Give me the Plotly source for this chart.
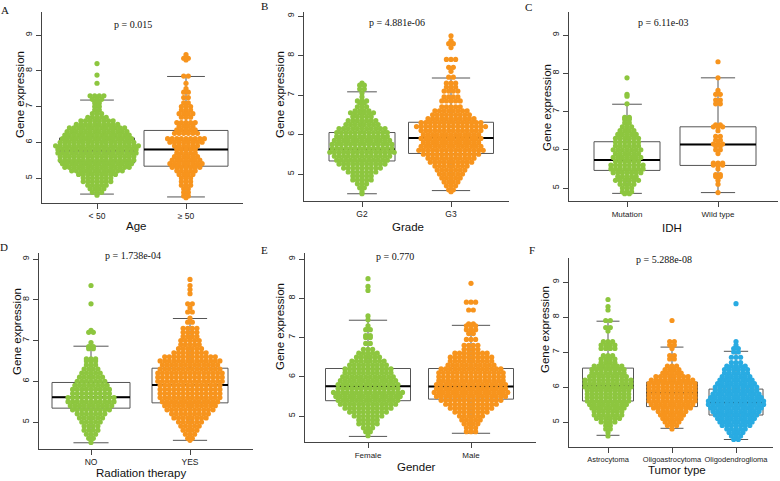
import plotly.graph_objects as go

W, H = 780, 481
GREEN = "#8DC63F"
ORANGE = "#F7941D"
BLUE = "#29ABE2"

# ---------------- data ----------------
# Panel A : Age
A_groups = ["< 50", "\u2265 50"]
A_lt50_y = [8.2, 7.88, 7.65, 7.3, 7.2, 7.1, 7.0, 6.9, 6.8, 6.7, 6.6, 6.5, 6.4, 6.3, 6.2, 6.1, 6.0, 5.9,
            5.8, 5.7, 5.6, 5.5, 5.4, 5.3, 5.2, 5.1, 5.0, 4.9, 4.8, 4.7, 4.6, 4.52]
A_lt50_n = [1, 1, 1, 4, 3, 2, 2, 2, 3, 5, 8, 10, 13, 14, 15, 16, 17, 19,
            18, 18, 17, 17, 16, 15, 12, 9, 7, 7, 5, 4, 3, 1]
A_ge50_y = [8.45, 8.35, 8.3, 7.85, 7.65, 7.5, 7.4, 7.25, 7.1, 7.0, 6.9, 6.8, 6.7, 6.55, 6.45, 6.35, 6.25,
            6.1, 6.0, 5.9, 5.8, 5.7, 5.6, 5.5, 5.4, 5.3, 5.2, 5.1, 5.0, 4.9, 4.8, 4.7, 4.6, 4.5, 4.45]
A_ge50_n = [1, 2, 1, 2, 1, 1, 2, 2, 2, 3, 3, 4, 3, 5, 4, 5, 6,
            9, 8, 6, 5, 5, 6, 7, 8, 7, 5, 4, 3, 3, 3, 2, 2, 2, 1]
A_q1 = [5.42, 5.33]
A_med = [5.77, 5.80]
A_q3 = [6.12, 6.33]
A_lo = [4.55, 4.47]
A_hi = [7.18, 7.84]
A_p = "p = 0.015"

# Panel B : Grade
B_groups = ["G2", "G3"]
B_g2_y = [7.3, 7.25, 7.15, 7.05, 6.95, 6.85, 6.8, 6.7, 6.6, 6.55, 6.45, 6.35, 6.25, 6.15, 6.05, 5.95,
          5.85, 5.75, 5.65, 5.55, 5.45, 5.35, 5.25, 5.15, 5.05, 4.95, 4.85, 4.75, 4.65, 4.55, 4.5]
B_g2_n = [1, 2, 2, 1, 1, 3, 2, 3, 4, 6, 5, 7, 8, 11, 12, 12,
          13, 14, 14, 15, 13, 12, 11, 9, 7, 5, 5, 3, 2, 1, 1]
B_g3_y = [8.5, 8.38, 8.3, 8.2, 7.9, 7.7, 7.6, 7.45, 7.3, 7.2, 7.1, 6.95, 6.85, 6.7, 6.6, 6.5, 6.4, 6.3,
          6.2, 6.1, 6.0, 5.9, 5.8, 5.7, 5.6, 5.5, 5.4, 5.3, 5.2, 5.1, 5.0, 4.9, 4.8, 4.7, 4.6, 4.55]
B_g3_n = [1, 1, 2, 1, 3, 2, 1, 2, 3, 3, 4, 4, 5, 5, 8, 9, 11, 14,
          16, 14, 13, 14, 13, 14, 15, 13, 11, 10, 8, 7, 6, 5, 4, 3, 2, 1]
B_q1 = [5.33, 5.52]
B_med = [5.63, 5.91]
B_q3 = [6.05, 6.31]
B_lo = [4.50, 4.58]
B_hi = [7.08, 7.43]
B_p = "p = 4.881e-06"

# Panel C : IDH
C_groups = ["Mutation", "Wild type"]
C_mut_y = [7.88, 7.45, 7.4, 7.2, 6.85, 6.8, 6.7, 6.6, 6.5, 6.4, 6.3, 6.2, 6.1, 6.0, 5.9, 5.8, 5.7,
           5.6, 5.5, 5.4, 5.3, 5.2, 5.1, 5.0, 4.9, 4.85]
C_mut_n = [1, 1, 1, 1, 2, 2, 2, 3, 4, 5, 6, 6, 6, 7, 6, 7, 6,
           8, 8, 7, 5, 6, 4, 3, 3, 2]
C_wt_y = [8.3, 7.88, 7.55, 7.45, 7.3, 7.2, 6.65, 6.6, 6.5, 6.35, 6.25, 6.15, 6.1, 6.0, 5.9, 5.65,
          5.6, 5.5, 5.35, 5.3, 5.2, 5.1, 4.88]
C_wt_n = [1, 1, 1, 2, 2, 2, 2, 3, 1, 2, 2, 3, 2, 2, 1, 3,
          3, 1, 2, 2, 1, 1, 1]
C_q1 = [5.46, 5.59]
C_med = [5.73, 6.14]
C_q3 = [6.21, 6.60]
C_lo = [4.86, 4.88]
C_hi = [7.19, 7.88]
C_p = "p = 6.11e-03"

# Panel D : Radiation therapy
D_groups = ["NO", "YES"]
D_no_y = [8.35, 7.9, 7.25, 7.2, 6.95, 6.85, 6.8, 6.55, 6.5, 6.4, 6.3, 6.2, 6.1, 6.0, 5.9, 5.8, 5.7,
          5.6, 5.5, 5.4, 5.3, 5.2, 5.1, 5.0, 4.9, 4.8, 4.7, 4.6, 4.5]
D_no_n = [1, 1, 1, 2, 1, 2, 2, 3, 3, 3, 4, 5, 6, 7, 8, 9, 9,
          11, 11, 10, 9, 7, 6, 5, 4, 4, 3, 2, 1]
D_yes_y = [8.5, 8.35, 8.25, 8.15, 7.9, 7.8, 7.7, 7.55, 7.45, 7.3, 7.2, 7.1, 7.0, 6.9, 6.8, 6.7, 6.6,
           6.5, 6.4, 6.3, 6.2, 6.1, 6.0, 5.9, 5.8, 5.7, 5.6, 5.5, 5.4, 5.3, 5.2, 5.1, 5.0, 4.9, 4.8,
           4.7, 4.6, 4.55]
D_yes_n = [1, 1, 1, 1, 2, 1, 2, 1, 2, 4, 4, 4, 5, 5, 6, 8, 12,
           14, 13, 14, 15, 15, 15, 14, 14, 14, 14, 13, 12, 11, 9, 8, 6, 5, 4,
           3, 2, 1]
D_q1 = [5.34, 5.47]
D_med = [5.61, 5.91]
D_q3 = [5.97, 6.32]
D_lo = [4.49, 4.55]
D_hi = [6.86, 7.54]
D_p = "p = 1.738e-04"

# Panel E : Gender
E_groups = ["Female", "Male"]
E_f_y = [8.5, 8.3, 8.2, 7.55, 7.45, 7.3, 7.2, 7.05, 7.0, 6.85, 6.7, 6.6, 6.5, 6.4, 6.3, 6.2, 6.1,
         6.0, 5.9, 5.8, 5.7, 5.6, 5.5, 5.4, 5.3, 5.2, 5.1, 5.0, 4.9, 4.8, 4.7, 4.6, 4.5]
E_f_n = [1, 1, 1, 1, 1, 1, 2, 2, 2, 2, 3, 5, 6, 8, 9, 11, 11,
         12, 13, 14, 14, 16, 15, 14, 13, 11, 9, 7, 5, 5, 3, 2, 1]
E_m_y = [8.38, 7.9, 7.7, 7.35, 7.3, 7.2, 7.1, 6.95, 6.8, 6.7, 6.6, 6.5, 6.4, 6.3, 6.2, 6.1, 6.0,
         5.9, 5.8, 5.7, 5.6, 5.5, 5.4, 5.3, 5.2, 5.1, 5.0, 4.9, 4.8, 4.7, 4.6]
E_m_n = [1, 3, 2, 2, 3, 3, 2, 3, 4, 4, 8, 10, 10, 11, 14, 15, 15,
         15, 16, 16, 17, 16, 14, 12, 10, 8, 6, 5, 4, 3, 3]
E_q1 = [5.39, 5.43]
E_med = [5.76, 5.75]
E_q3 = [6.21, 6.21]
E_lo = [4.48, 4.56]
E_hi = [7.44, 7.31]
E_p = "p = 0.770"

# Panel F : Tumor type
F_groups = ["Astrocytoma", "Oligoastrocytoma", "Oligodendroglioma"]
F_astro_y = [8.5, 8.3, 8.2, 7.9, 7.7, 7.6, 7.3, 7.2, 7.1, 6.9, 6.8, 6.7, 6.6, 6.5, 6.4, 6.3, 6.2,
             6.1, 6.0, 5.9, 5.8, 5.7, 5.6, 5.5, 5.4, 5.3, 5.2, 5.1, 5.0, 4.9, 4.8, 4.7, 4.6]
F_astro_n = [1, 1, 1, 2, 2, 1, 3, 4, 4, 3, 4, 4, 7, 8, 8, 9, 11,
             11, 11, 10, 10, 10, 10, 9, 8, 7, 7, 6, 4, 2, 2, 1, 1]
F_oa_y = [7.9, 7.3, 7.2, 7.1, 6.9, 6.8, 6.6, 6.5, 6.4, 6.3, 6.2, 6.1, 6.0, 5.9, 5.8, 5.7, 5.6,
          5.5, 5.4, 5.3, 5.2, 5.1, 5.0, 4.9, 4.8]
F_oa_n = [1, 2, 2, 1, 2, 2, 3, 4, 5, 8, 10, 11, 11, 11, 11, 11, 11,
          10, 9, 7, 6, 5, 4, 3, 1]
F_od_y = [8.38, 7.3, 7.2, 7.1, 7.0, 6.85, 6.7, 6.6, 6.5, 6.4, 6.3, 6.2, 6.1, 6.0, 5.9, 5.8, 5.7,
          5.6, 5.5, 5.4, 5.3, 5.2, 5.1, 5.0, 4.9, 4.8, 4.7, 4.6, 4.5]
F_od_n = [1, 1, 1, 2, 2, 3, 3, 5, 6, 6, 7, 8, 9, 10, 10, 11, 12,
          13, 13, 12, 11, 10, 9, 8, 7, 5, 4, 3, 2]
F_q1 = [5.60, 5.44, 5.20]
F_med = [6.02, 5.82, 5.56]
F_q3 = [6.54, 6.14, 5.94]
F_lo = [4.62, 4.82, 4.50]
F_hi = [7.88, 7.14, 7.02]
F_p = "p = 5.288e-08"

Y_TICKS = [5, 6, 7, 8, 9]

# ---------------- layout geometry (pixels) ----------------
PANELS = [
    dict(letter="A", groups=A_groups, swarms=[(A_lt50_y, A_lt50_n, GREEN), (A_ge50_y, A_ge50_n, ORANGE)],
         q1=A_q1, med=A_med, q3=A_q3, lo=A_lo, hi=A_hi, p=A_p, xtitle="Age",
         xl=42, xr=243, yt=12, yb=203, y5=178, y9=35, cx=[97, 186], bw=[75, 84],
         let=(5, 10), pp=(133, 25), xt=(136, 226), ytit=(20, 95), tfs=8.5),
    dict(letter="B", groups=B_groups, swarms=[(B_g2_y, B_g2_n, GREEN), (B_g3_y, B_g3_n, ORANGE)],
         q1=B_q1, med=B_med, q3=B_q3, lo=B_lo, hi=B_hi, p=B_p, xtitle="Grade",
         xl=304, xr=509, yt=12, yb=201, y5=174, y9=16, cx=[362, 451], bw=[66, 85],
         let=(264, 6), pp=(397, 22), xt=(408, 227), ytit=(280, 95), tfs=8.5),
    dict(letter="C", groups=C_groups, swarms=[(C_mut_y, C_mut_n, GREEN), (C_wt_y, C_wt_n, ORANGE)],
         q1=C_q1, med=C_med, q3=C_q3, lo=C_lo, hi=C_hi, p=C_p, xtitle="IDH",
         xl=569, xr=778, yt=12, yb=201, y5=188, y9=35, cx=[627, 718], bw=[66, 76],
         let=(528, 7), pp=(663, 22), xt=(672, 228), ytit=(547, 108), tfs=8),
    dict(letter="D", groups=D_groups, swarms=[(D_no_y, D_no_n, GREEN), (D_yes_y, D_yes_n, ORANGE)],
         q1=D_q1, med=D_med, q3=D_q3, lo=D_lo, hi=D_hi, p=D_p, xtitle="Radiation therapy",
         xl=39, xr=253, yt=253, yb=449, y5=422, y9=259, cx=[91, 190], bw=[78, 76],
         let=(4, 247), pp=(133, 255), xt=(141, 473), ytit=(17, 332), tfs=8.5),
    dict(letter="E", groups=E_groups, swarms=[(E_f_y, E_f_n, GREEN), (E_m_y, E_m_n, ORANGE)],
         q1=E_q1, med=E_med, q3=E_q3, lo=E_lo, hi=E_hi, p=E_p, xtitle="Gender",
         xl=305, xr=536, yt=253, yb=442, y5=416, y9=259, cx=[368, 471], bw=[85, 85],
         let=(264, 250), pp=(395, 256), xt=(416, 467), ytit=(280, 327), tfs=8),
    dict(letter="F", groups=F_groups,
         swarms=[(F_astro_y, F_astro_n, GREEN), (F_oa_y, F_oa_n, ORANGE), (F_od_y, F_od_n, BLUE)],
         q1=F_q1, med=F_med, q3=F_q3, lo=F_lo, hi=F_hi, p=F_p, xtitle="Tumor type",
         xl=569, xr=773, yt=258, yb=447, y5=422, y9=282, cx=[608, 673, 736], bw=[51, 51, 54],
         let=(532, 250), pp=(664, 259), xt=(677, 470), ytit=(545, 330), tfs=7.5),
]

SANS = "Liberation Sans, Arial, sans-serif"
SERIF = "Liberation Serif, Times New Roman, serif"
AXC = "#444444"
DOT_PX = 4.6
DOT_SIZE = 5.2

fig = go.Figure()
annotations = []
layout_axes = {}


def ann(text, xy, size, family, angle=0, color="#111"):
    annotations.append(dict(text=text, x=xy[0] / W, y=1 - xy[1] / H, xref="paper", yref="paper",
                            showarrow=False, xanchor="center", yanchor="middle", textangle=angle,
                            font=dict(family=family, size=size, color=color)))


for i, P in enumerate(PANELS, start=1):
    xa = "x" if i == 1 else f"x{i}"
    ya = "y" if i == 1 else f"y{i}"
    ncat = len(P["groups"])
    u = (P["cx"][-1] - P["cx"][0]) / (ncat - 1)           # px per category unit
    xr0 = 1 - (P["cx"][0] - P["xl"]) / u
    xr1 = 1 + (P["xr"] - P["cx"][0]) / u
    v = (P["y5"] - P["y9"]) / 4.0                          # px per expression unit
    yr0 = 5 - (P["yb"] - P["y5"]) / v
    yr1 = 5 + (P["y5"] - P["yt"]) / v
    positions = list(range(1, ncat + 1))

    # boxes
    for k, pos in enumerate(positions):
        bw = P["bw"][k] / u
        fig.add_trace(go.Box(
            x=[pos], q1=[P["q1"][k]], median=[P["med"][k]], q3=[P["q3"][k]],
            lowerfence=[P["lo"][k]], upperfence=[P["hi"][k]],
            width=bw, whiskerwidth=0.45, boxpoints=False,
            line=dict(color="#555555", width=1), fillcolor="rgba(255,255,255,0)",
            xaxis=xa, yaxis=ya, showlegend=False, hoverinfo="skip"))
    # thick medians
    for k, pos in enumerate(positions):
        bw = P["bw"][k] / u
        fig.add_trace(go.Scatter(
            x=[pos - bw / 2, pos + bw / 2], y=[P["med"][k], P["med"][k]], mode="lines",
            line=dict(color="black", width=2), xaxis=xa, yaxis=ya,
            showlegend=False, hoverinfo="skip"))
    # swarms
    dx = DOT_PX / u
    for k, (ys, ns, col) in enumerate(P["swarms"]):
        px, py = [], []
        for yv, n in zip(ys, ns):
            for j in range(n):
                px.append(positions[k] + (j - (n - 1) / 2) * dx)
                py.append(yv)
        fig.add_trace(go.Scatter(
            x=px, y=py, mode="markers",
            marker=dict(color=col, size=DOT_SIZE, line=dict(width=0)),
            xaxis=xa, yaxis=ya, showlegend=False, hoverinfo="skip"))

    xkey = "xaxis" if i == 1 else f"xaxis{i}"
    ykey = "yaxis" if i == 1 else f"yaxis{i}"
    layout_axes[xkey] = dict(
        domain=[P["xl"] / W, P["xr"] / W], range=[xr0, xr1], anchor=ya,
        tickvals=positions, ticktext=P["groups"], tickangle=0,
        showline=True, linecolor=AXC, linewidth=1,
        ticks="outside", ticklen=5, tickcolor=AXC, showgrid=False, zeroline=False,
        tickfont=dict(family=SANS, size=P["tfs"], color="#222"), fixedrange=True)
    layout_axes[ykey] = dict(
        domain=[1 - P["yb"] / H, 1 - P["yt"] / H], range=[yr0, yr1], anchor=xa,
        tickvals=Y_TICKS, ticktext=[str(t) for t in Y_TICKS], tickangle=-90,
        showline=True, linecolor=AXC, linewidth=1, ticks="outside", ticklen=5, tickcolor=AXC,
        showgrid=False, zeroline=False, tickfont=dict(family=SANS, size=9, color="#222"),
        fixedrange=True)

    ann(P["letter"], P["let"], 11, SERIF)
    ann(P["p"], P["pp"], 10, SERIF)
    ann(P["xtitle"], P["xt"], 11.5, SANS)
    ann("Gene expression", P["ytit"], 11.5, SANS, angle=-90)

fig.update_layout(
    width=W, height=H, margin=dict(l=0, r=0, t=0, b=0),
    paper_bgcolor="white", plot_bgcolor="white", showlegend=False,
    annotations=annotations, **layout_axes)

fig.write_html("out.html", config={"displayModeBar": False},
               post_script="document.body.style.margin='0px';document.body.style.overflow='hidden';")
